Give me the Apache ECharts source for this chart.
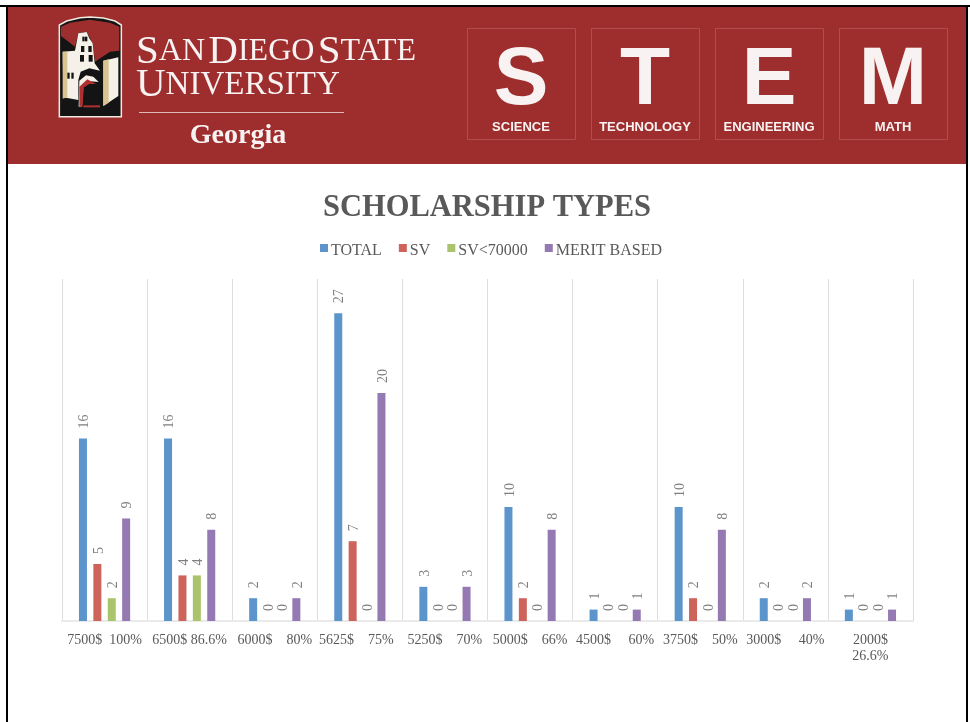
<!DOCTYPE html>
<html>
<head>
    <meta charset="utf-8">
    <title>Scholarship Types</title>
    <script src="https://cdn.jsdelivr.net/npm/echarts@6/dist/echarts.min.js"></script>
    <style>
        html, body { margin: 0; padding: 0; background: #fff; }
        #main { width: 970px; height: 722px; }
    </style>
</head>
<body>
<div id="main"></div>
<script>
    // data
    var categories = ['7500$  100%', '6500$ 86.6%', '6000$    80%', '5625$    75%  ', '5250$    70%',
        '5000$    66%', '4500$     60%', '3750$    50%', '3000$     40%', '2000$\n26.6%'];
    var total = [16, 16, 2, 27, 3, 10, 1, 10, 2, 1];
    var sv = [5, 4, 0, 7, 0, 2, 0, 2, 0, 0];
    var svLow = [2, 4, 0, 0, 0, 0, 0, 0, 0, 0];
    var merit = [9, 8, 2, 20, 3, 8, 1, 8, 2, 1];
    var seriesNames = ['TOTAL', 'SV', 'SV<70000', 'MERIT BASED'];
    var seriesColors = ['#5B95CC', '#CE635C', '#A9C46A', '#9479B2'];
    var stemLetters = ['S', 'T', 'E', 'M'];
    var stemWords = ['SCIENCE', 'TECHNOLOGY', 'ENGINEERING', 'MATH'];

    var serif = '"Liberation Serif", serif';
    var sans = '"Liberation Sans", sans-serif';
    var red = '#9E2E2E';
    var cream = '#F8F3F2';
    var tan = '#D9C48F';
    var ink = '#141414';

    // logo polygons, traced on a 3x crop whose corner is at (50,10)
    function logoShape(points, fill, stroke) {
        return {
            type: 'polygon',
            shape: {points: points.map(function (p) { return [50 + p[0] / 3, 10 + p[1] / 3]; })},
            style: stroke ? {fill: fill, stroke: stroke, lineWidth: 1.5} : {fill: fill}
        };
    }

    function logoRect(x, y, w, h) {
        return logoShape([[x, y], [x + w, y], [x + w, y + h], [x, y + h]], ink);
    }

    // top banner
    var banner = [
        {type: 'rect', shape: {x: 0, y: 5, width: 970, height: 2}, style: {fill: '#000'}},
        {type: 'rect', shape: {x: 6, y: 5, width: 2, height: 717}, style: {fill: '#000'}},
        {type: 'rect', shape: {x: 966, y: 5, width: 2, height: 717}, style: {fill: '#000'}},
        {type: 'rect', shape: {x: 8, y: 7, width: 958, height: 157}, style: {fill: red}},

        logoShape([[28, 320], [28, 45], [50, 33], [90, 23], [120, 21], [160, 24], [195, 33], [214, 45], [214, 320]], ink, '#EFE9DF'),
        logoShape([[33, 50], [60, 38], [120, 29], [180, 38], [208, 50], [208, 122], [180, 125], [135, 155], [128, 100], [110, 65], [85, 70], [75, 110], [33, 78]], red),
        logoShape([[38, 125], [75, 122], [85, 70], [110, 66], [118, 85], [128, 100], [134, 160], [150, 182], [118, 175], [92, 185], [85, 210], [85, 270], [40, 262]], '#F5F1E8'),
        logoShape([[38, 125], [52, 125], [52, 262], [38, 266]], tan),
        logoShape([[160, 152], [205, 142], [205, 258], [160, 288]], '#F5F1E8'),
        logoShape([[160, 152], [176, 148], [176, 278], [160, 288]], tan),
        logoShape([[88, 212], [108, 196], [130, 200], [146, 216], [120, 214], [100, 226], [96, 290], [86, 290]], '#F5F1E8'),
        logoShape([[88, 230], [112, 208], [138, 222], [118, 222], [102, 232], [97, 290], [88, 290]], '#B03030'),
        logoShape([[100, 286], [150, 286], [150, 292], [100, 292]], '#B03030'),
        logoRect(97, 80, 7, 14),
        logoRect(105, 80, 7, 14),
        logoRect(93, 108, 10, 18),
        logoRect(115, 108, 10, 18),
        logoRect(90, 135, 12, 20),
        logoRect(116, 135, 12, 20),
        logoRect(52, 188, 7, 18),
        logoRect(64, 188, 7, 18),

        // university name
        {type: 'text', style: {x: 136, y: 52, text: '{a|S}{b|AN} {a|D}{b|IEGO} {a|S}{b|TATE}', verticalAlign: 'middle', fill: cream,
            rich: {a: {font: '41px ' + serif, fill: cream}, b: {font: '32px ' + serif, fill: cream}}}},
        {type: 'text', style: {x: 136, y: 85, text: '{a|U}{b|NIVERSITY}', verticalAlign: 'middle', fill: cream,
            rich: {a: {font: '41px ' + serif, fill: cream}, b: {font: '33px ' + serif, fill: cream}}}},
        {type: 'rect', shape: {x: 139, y: 112, width: 205, height: 1}, style: {fill: '#DDB9B7'}},
        {type: 'text', style: {x: 238, y: 136, text: 'Georgia', font: 'bold 28px ' + serif, fill: cream, align: 'center', verticalAlign: 'middle'}}
    ];

    // STEM tiles
    stemLetters.forEach(function (letter, i) {
        var left = 467 + i * 124;
        banner.push({type: 'rect', shape: {x: left + 0.5, y: 28.5, width: 108, height: 111},
            style: {fill: 'none', stroke: '#AE4E4D', lineWidth: 1}});
        banner.push({type: 'text', style: {x: left + 54, y: 81, text: letter, font: 'bold 82px ' + sans, fill: cream, align: 'center', verticalAlign: 'middle'}});
        banner.push({type: 'text', style: {x: left + 54, y: 127, text: stemWords[i], font: 'bold 13px ' + sans, fill: cream, align: 'center', verticalAlign: 'middle'}});
    });

    function barSeries(name, values, color) {
        return {
            name: name,
            type: 'bar',
            data: values,
            barWidth: 8,
            barGap: '80%',
            itemStyle: {color: color},
            label: {
                show: true,
                position: 'top',
                rotate: 90,
                align: 'left',
                verticalAlign: 'middle',
                distance: 10,
                offset: [0, 1.5],
                color: '#808080',
                fontFamily: serif,
                fontSize: 14
            }
        };
    }

    var chart = echarts.init(document.getElementById('main'), null, {renderer: 'canvas'});

    chart.setOption({
        animation: false,
        backgroundColor: '#fff',
        title: {
            text: 'SCHOLARSHIP TYPES',
            left: 318,
            top: 188,
            textStyle: {color: '#595959', fontFamily: serif, fontWeight: 'bold', fontSize: 30.5}
        },
        legend: {
            top: 238,
            left: 315,
            icon: 'rect',
            itemWidth: 8,
            itemHeight: 8,
            itemGap: 17,
            formatter: '{t|{name}}',
            textStyle: {
                rich: {t: {color: '#595959', fontFamily: serif, fontSize: 16, padding: [6, 0, 0, -2]}}
            },
            data: seriesNames
        },
        grid: {left: 62, right: 57, top: 279, bottom: 101},
        xAxis: {
            type: 'category',
            data: categories,
            axisTick: {show: false},
            axisLine: {lineStyle: {color: '#EAEAEA', width: 2}},
            axisLabel: {color: '#595959', fontFamily: serif, fontSize: 14, margin: 11, lineHeight: 16, interval: 0},
            splitLine: {show: true, lineStyle: {color: '#DEDEDE', width: 1}}
        },
        yAxis: {
            type: 'value',
            min: 0,
            max: 30,
            axisLabel: {show: false},
            axisLine: {show: false},
            axisTick: {show: false},
            splitLine: {show: false}
        },
        series: [
            barSeries(seriesNames[0], total, seriesColors[0]),
            barSeries(seriesNames[1], sv, seriesColors[1]),
            barSeries(seriesNames[2], svLow, seriesColors[2]),
            barSeries(seriesNames[3], merit, seriesColors[3])
        ],
        graphic: {elements: banner}
    });
</script>
</body>
</html>
